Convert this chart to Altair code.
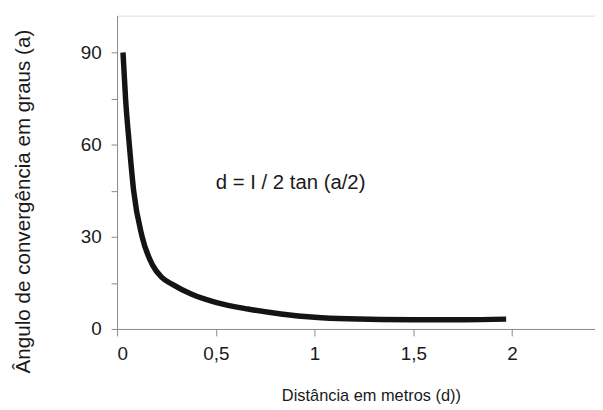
import altair as alt
import pandas as pd

# values
dist = [0.030, 0.043, 0.062, 0.084, 0.127, 0.178, 0.228, 0.278, 0.378, 0.504,
        0.663, 0.83, 1.0, 1.166, 1.5, 1.75, 1.97]
angle = [90, 75, 60, 45, 30, 21, 16.7, 14.6, 11.3, 8.6,
         6.5, 4.9, 3.8, 3.3, 3.0, 3.0, 3.2]
x_ticks = [0, 0.5, 1, 1.5, 2]
y_ticks = [0, 15, 30, 45, 60, 75, 90]
equation = "d = I / 2 tan (a/2)"

df = pd.DataFrame({"d": dist, "a": angle})
lab = pd.DataFrame({"d": [0.5], "a": [47.5], "t": [equation]})

FONT = "Liberation Sans"
TXT = "#1a1a1a"

x_enc = alt.X(
    "d:Q",
    scale=alt.Scale(domain=[0, 2.42], nice=False, zero=False),
    axis=alt.Axis(
        values=x_ticks,
        title="Distância em metros (d))",
        labelExpr="replace(format(datum.value, '~g'), '.', ',')",
        grid=False,
        domainColor="#8a8a8a",
        tickColor="#8a8a8a",
        tickSize=7,
        labelPadding=9,
        labelFontSize=19,
        labelColor=TXT,
        labelFont=FONT,
        titleFont=FONT,
        titleFontSize=16.5,
        titleFontWeight="normal",
        titleColor=TXT,
        titleX=256,
        titleY=67,
        titleBaseline="middle",
        titleAlign="center",
    ),
)

y_enc = alt.Y(
    "a:Q",
    scale=alt.Scale(domain=[0, 102], nice=False),
    axis=alt.Axis(
        values=y_ticks,
        title="Ângulo de convergência em graus (a)",
        labelExpr="datum.value % 30 == 0 ? datum.value : ''",
        grid=False,
        domainColor="#8a8a8a",
        tickColor="#8a8a8a",
        tickSize=6,
        labelPadding=10,
        labelFontSize=19,
        labelColor=TXT,
        labelFont=FONT,
        titleFont=FONT,
        titleFontSize=20.8,
        titleFontWeight="normal",
        titleColor=TXT,
        titleX=-94,
        titleY=187,
        titleBaseline="middle",
        titleAlign="center",
    ),
)

line = alt.Chart(df).mark_line(
    color="#141414", strokeWidth=5.5, interpolate="monotone", strokeCap="butt"
).encode(x=x_enc, y=y_enc)

text = alt.Chart(lab).mark_text(
    align="left", baseline="middle", fontSize=20.5, font=FONT, color=TXT
).encode(x="d:Q", y="a:Q", text="t:N")

chart = (
    alt.layer(line, text)
    .properties(
        width=482,
        height=316,
        autosize=alt.AutoSizeParams(type="none"),
        padding={"left": 110, "top": 6, "right": 0, "bottom": 80},
    )
    .configure_view(stroke=None)
    .configure(background="white")
)

chart.save("out.html", embed_options={"renderer": "svg", "actions": False})
